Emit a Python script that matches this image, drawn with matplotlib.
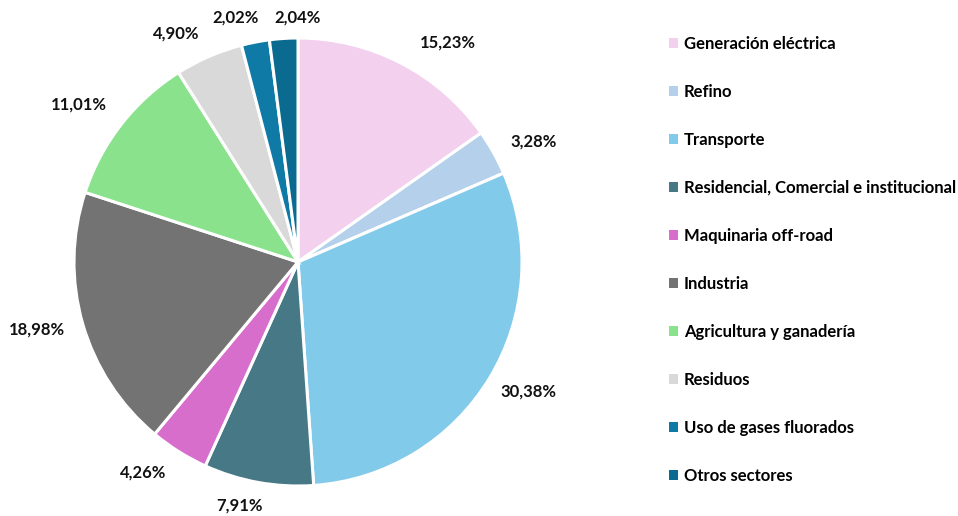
import matplotlib.pyplot as plt
from matplotlib.patches import Patch

plt.rcParams['font.family'] = ['Lato', 'DejaVu Sans']

sectors = ['Generación eléctrica', 'Refino', 'Transporte',
           'Residencial, Comercial e institucional', 'Maquinaria off-road',
           'Industria', 'Agricultura y ganadería', 'Residuos',
           'Uso de gases fluorados', 'Otros sectores']
shares = [15.23, 3.28, 30.38, 7.91, 4.26, 18.98, 11.01, 4.90, 2.02, 2.04]
colors = ['#F2D0EE', '#B4D0EA', '#82CAEA', '#467886', '#D86ECC',
          '#737373', '#8AE28C', '#D9D9D9', '#0E7AA5', '#0B6A8F']

# label positions (pie radius = 1)
label_pos = [(0.67, 0.98), (1.05, 0.54), (1.03, -0.58), (-0.26, -1.085),
             (-0.69, -0.94), (-1.165, -0.30), (-0.98, 0.705), (-0.545, 1.02),
             (-0.277, 1.09), (-0.004, 1.09)]

fig = plt.figure(figsize=(9.58, 5.16), dpi=100)
ax = fig.add_axes([74 / 958, 30 / 516, 448 / 958, 448 / 516])
ax.pie(shares, colors=colors, startangle=90, counterclock=False, radius=1,
       wedgeprops=dict(edgecolor='white', linewidth=2.2))
ax.set_xlim(-1, 1)
ax.set_ylim(-1, 1)
ax.set_aspect('equal')
ax.axis('off')

for v, (x, y) in zip(shares, label_pos):
    ax.text(x, y, f'{v:.2f}%'.replace('.', ','), ha='center', va='center',
            fontsize=12, fontweight='bold', color='#111111', clip_on=False)

handles = [Patch(facecolor=c, edgecolor='none') for c in colors]
fig.legend(handles, sectors, loc='upper left', bbox_to_anchor=(662 / 958, 1 - 29 / 516),
           frameon=False, handlelength=0.55, handleheight=0.55, handletextpad=0.35,
           labelspacing=1.92, prop=dict(size=12, weight='bold'), borderaxespad=0)

fig.savefig('out.png', dpi=100)
